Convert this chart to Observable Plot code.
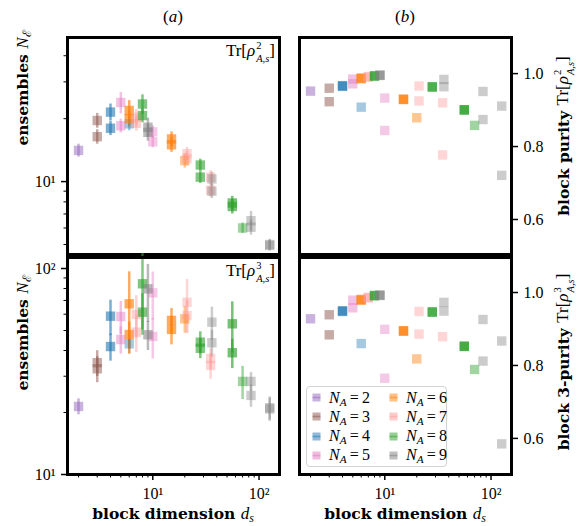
<!DOCTYPE html>
<html><head><meta charset="utf-8">
<script src="https://cdn.jsdelivr.net/npm/d3@7"></script>
<script src="https://cdn.jsdelivr.net/npm/@observablehq/plot@0.6"></script>
<style>
body{margin:0;background:#fff;}
#root{position:relative;width:582px;height:526px;overflow:hidden;background:#fff;font-family:"Liberation Serif",serif;color:#000;}
#root svg{position:absolute;left:0;top:0;}
.t{position:absolute;white-space:nowrap;transform:translate(-50%,-50%);line-height:1;}
.rot{transform:translate(-50%,-50%) rotate(-90deg);}
.bl{font-family:"DejaVu Serif",serif;font-weight:bold;font-size:15.5px;}
.m{font-family:"Liberation Serif",serif;font-weight:normal;font-size:17px;}
.ss{display:inline-block;vertical-align:-0.5em;font-size:0.62em;line-height:1.2;margin-left:1px;}
.ss>span{display:block;height:1.2em;}
sub{font-size:0.7em;vertical-align:-0.3em;line-height:0;}
#legend{position:absolute;left:306px;top:386px;width:139px;height:79px;border:1.5px solid #d2d2d2;border-radius:4px;background:rgba(255,255,255,0.8);font-size:16px;}
.le{position:absolute;display:flex;align-items:center;white-space:nowrap;line-height:1;}
.le svg{position:static !important;margin-right:8px;}
</style></head><body><div id="root"></div>
<script>
// ---------- data ----------
const NAvals = [2, 3, 4, 5, 6, 7, 8, 9];
const colors = ["#9467bd", "#8c564b", "#1f77b4", "#e377c2", "#ff7f0e", "#ff9896", "#2ca02c", "#7f7f7f"];

const NA = [2, 3,3, 4,4,4, 5,5,5,5, 6,6,6,6,6, 7,7,7,7,7,7, 8,8,8,8,8,8,8, 9,9,9,9,9,9,9,9];
const ds = [2, 3,3, 4,4,6, 5,5,10,10, 6,6,15,15,20, 7,7,21,21,35,35, 8,8,28,28,56,56,70, 9,9,36,36,84,84,126,126];

// ensembles N_E for Tr[rho^2] (panel a, top)
const ens2 = [14.1, 19.6,16.4, 21.5,18.0,18.9, 23.9,18.5,17.3,15.5, 21.9,20.0,16.0,15.0,12.6,
  20.3,19.0,13.6,12.9,10.5,9.1, 23.5,20.7,12.0,10.5,7.9,7.6,6.0, 18.2,17.2,10.3,9.0,6.5,6.05,5.0,4.95];
const ens2Err = [1.0, 1.6,1.3, 2.0,1.4,1.4, 2.8,1.4,1.2,1.0, 2.5,1.7,1.3,1.2,1.0,
  1.8,1.6,1.0,1.0,0.8,0.7, 2.5,1.6,0.8,0.7,0.6,0.6,0.35, 1.9,1.6,0.8,0.7,0.7,0.5,0.3,0.3];

// ensembles N_E for Tr[rho^3] (panel a, bottom)
const ens3 = [21.4, 34.9,32.6, 58.7,41.8,43.1, 58.5,45.2,76.2,46.8, 67.4,47.8,56,50.6,57,
  59.8,49.1,68.6,59.1,36.6,33.8, 84.3,61.4,43.9,41.0,53.9,39.0,28.3, 79.7,47.7,54.9,43.6,28.3,24.2,21.1,20.8];
const ens3Err = [1.9, 5.0,4.7, 11.5,6.3,4.6, 10.7,6.8,20,10.4, 29,7.2,8,8,8.5,
  14,10,20,10.8,4.2,4.8, 34,14,5.4,4.5,15,6.3,5.2, 25,7.7,10,6.5,3,3,2.7,2.7];

// block purity Tr[rho^2] (panel b, top) and block 3-purity (panel b, bottom)
const pur2 = [0.952, 0.960,0.923, 0.967,0.965,0.908, 0.985,0.972,0.933,0.844, 0.988,0.986,0.930,0.929,0.879,
  0.992,0.990,0.966,0.925,0.920,0.777, 0.994,0.993,0.964,0.963,0.901,0.900,0.858, 0.996,0.995,0.984,0.964,0.951,0.874,0.911,0.721];
const pur3 = [0.928, 0.939,0.884, 0.950,0.948,0.860, 0.979,0.958,0.899,0.765, 0.981,0.979,0.895,0.894,0.818,
  0.987,0.985,0.948,0.886,0.879,0.666, 0.992,0.991,0.947,0.946,0.853,0.852,0.789, 0.993,0.992,0.973,0.949,0.926,0.812,0.867,0.585];

// marker opacity per point
const alpha = [0.5, 0.5,0.5, 0.6,0.6,0.4, 0.45,0.45,0.4,0.4, 0.65,0.65,0.65,0.65,0.45,
  0.45,0.45,0.4,0.4,0.4,0.4, 0.6,0.6,0.6,0.6,0.65,0.65,0.45, 0.55,0.55,0.4,0.4,0.4,0.4,0.4,0.4];

const xMajor = [10, 100], xMajorLabels = ["10¹", "10²"];
const xMinor = [2,3,4,5,6,7,8,9,20,30,40,50,60,70,80,90];
const yTopMajor = [10], yTopLabels = ["10¹"], yTopMinor = [5,6,7,8,9,20,30,40];
const yBotMajor = [10, 100], yBotLabels = ["10¹", "10²"], yBotMinor = [20,30,40,50,60,70,80,90];
const pTicks = [0.6, 0.8, 1.0], pLabels = ["0.6", "0.8", "1.0"];

// ---------- build ----------
const rows = ds.map((d, i) => ({ds: d, na: NA[i], a: alpha[i], e2: ens2[i], e2e: ens2Err[i],
  e3: ens3[i], e3e: ens3Err[i], p2: pur2[i], p3: pur3[i]}));

const W = 582, H = 526;
const L = {l: 67, r: 279}, R = {l: 299, r: 511};
const T = {t: 37, b: 254}, B = {t: 257, b: 474};
const xDomain = [1.575, 155.8];
const color = {type: "ordinal", domain: NAvals, range: colors};
const root = document.getElementById("root");

function fmt(vals, labels) { return d => { const i = vals.indexOf(d); return i >= 0 ? labels[i] : ""; }; }

function xAxes() {
  return [
    Plot.axisX({ticks: xMajor, tickSize: 6, strokeWidth: 1.5, tickPadding: 7, tickFormat: fmt(xMajor, xMajorLabels), label: null}),
    Plot.axisX({ticks: xMinor, tickSize: 3.5, strokeWidth: 1, tickFormat: () => "", label: null})
  ];
}

function makePlot({col, row, yScale, marks}) {
  const p = Plot.plot({
    width: W, height: H,
    marginLeft: col.l, marginRight: W - col.r, marginTop: row.t, marginBottom: H - row.b,
    style: {background: "transparent", fontFamily: '"Liberation Serif", serif', fontSize: "16px", overflow: "visible"},
    x: {type: "log", domain: xDomain, ...(row === T ? {axis: null} : {})},
    y: yScale,
    color,
    marks: [...marks, Plot.frame({stroke: "black", strokeWidth: 3})]
  });
  root.appendChild(p);
}

function leftMarks(key, ekey) {
  return [
    Plot.ruleX(rows, {x: "ds", y1: d => d[key] - d[ekey], y2: d => d[key] + d[ekey], stroke: "na", strokeWidth: 2.5, strokeOpacity: "a"}),
    Plot.dot(rows, {x: "ds", y: key, symbol: "square", r: 5.3, fill: "na", fillOpacity: "a", stroke: null})
  ];
}
function rightMarks(key) {
  return [Plot.dot(rows, {x: "ds", y: key, symbol: "square", r: 5.3, fill: "na", fillOpacity: "a", stroke: null})];
}
function pAxis() {
  return [Plot.axisY({anchor: "right", ticks: pTicks, tickSize: 6, strokeWidth: 1.5, tickPadding: 6, tickFormat: fmt(pTicks, pLabels), label: null})];
}

makePlot({col: L, row: T, yScale: {type: "log", domain: [4.48, 48.9]}, marks: [
  Plot.axisY({ticks: yTopMajor, tickSize: 6, strokeWidth: 1.5, tickPadding: 6, tickFormat: fmt(yTopMajor, yTopLabels), label: null}),
  Plot.axisY({ticks: yTopMinor, tickSize: 3.5, strokeWidth: 1, tickFormat: () => "", label: null}),
  ...leftMarks("e2", "e2e")]});
makePlot({col: L, row: B, yScale: {type: "log", domain: [10, 113.1]}, marks: [
  Plot.axisY({ticks: yBotMajor, tickSize: 6, strokeWidth: 1.5, tickPadding: 6, tickFormat: fmt(yBotMajor, yBotLabels), label: null}),
  Plot.axisY({ticks: yBotMinor, tickSize: 3.5, strokeWidth: 1, tickFormat: () => "", label: null}),
  ...xAxes(), ...leftMarks("e3", "e3e")]});
makePlot({col: R, row: T, yScale: {domain: [0.504, 1.099]}, marks: [...pAxis(), ...rightMarks("p2")]});
makePlot({col: R, row: B, yScale: {domain: [0.501, 1.096]}, marks: [...pAxis(), ...xAxes(), ...rightMarks("p3")]});

// ---------- text ----------
const tr = n => `<span class="m">Tr[<i>ρ</i><span class="ss"><span>${n}</span><span><i>A,s</i></span></span>]</span>`;
function addText(html, x, y, cls, extra) {
  const d = document.createElement("div");
  d.className = "t " + (cls || "");
  d.style.left = x + "px"; d.style.top = y + "px";
  if (extra) Object.assign(d.style, extra);
  d.innerHTML = html;
  root.appendChild(d);
  return d;
}
addText('(<i>a</i>)', (L.l + L.r) / 2, 16, "", {fontSize: "17px"});
addText('(<i>b</i>)', (R.l + R.r) / 2, 16, "", {fontSize: "17px"});
const xl = 'block dimension <span class="m"><i>d</i><sub><i>s</i></sub></span>';
addText(xl, (L.l + L.r) / 2, 513, "bl");
addText(xl, (R.l + R.r) / 2, 513, "bl");
const yl = 'ensembles <span class="m"><i>N</i><sub>ℰ</sub></span>';
addText(yl, 22, 88, "bl rot");
addText(yl, 22, 333, "bl rot");
addText('block purity ' + tr(2), 565, 136, "bl rot");
addText('block 3-purity ' + tr(3), 565, 362, "bl rot");
addText(tr(2), 0, 0, "", {transform: "none", right: (W - 275) + "px", left: "auto", top: "40px"});
addText(tr(3), 0, 0, "", {transform: "none", right: (W - 275) + "px", left: "auto", top: "260px"});

// ---------- legend ----------
const lg = document.createElement("div");
lg.id = "legend";
NAvals.forEach((n, i) => {
  const col = Math.floor(i / 4), r = i % 4;
  const e = document.createElement("div");
  e.className = "le";
  e.style.left = (col === 0 ? 5 : 82) + "px";
  e.style.top = (2 + r * 19.3) + "px";
  e.style.height = "17px";
  e.innerHTML = `<svg width="9" height="9" viewBox="0 0 9 9"><rect x="0.5" y="0.5" width="8" height="8" fill="${colors[i]}" fill-opacity="0.5"/><line x1="0.5" x2="8.5" y1="4.5" y2="4.5" stroke="${colors[i]}" stroke-opacity="0.5" stroke-width="1.6"/></svg><span><i>N</i><sub><i>A</i></sub>\u2009=\u2009${n}</span>`;
  lg.appendChild(e);
});
root.appendChild(lg);
</script></body></html>
